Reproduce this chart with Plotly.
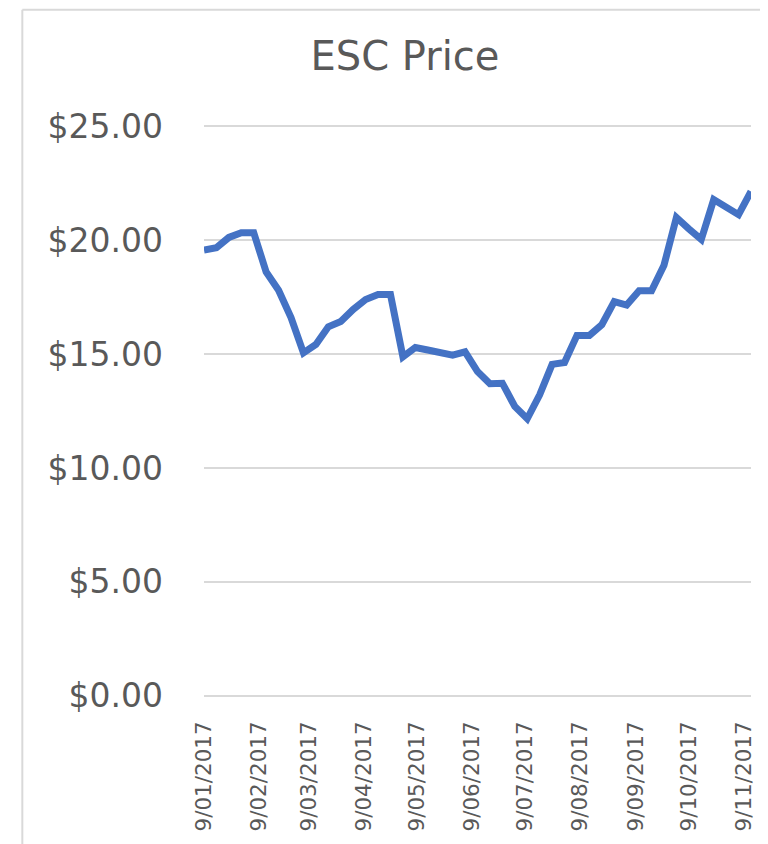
import plotly.graph_objects as go

# Weekly observation dates (Monday of each week)
dates = [
    "2017-01-09", "2017-01-16", "2017-01-23", "2017-01-30",
    "2017-02-06", "2017-02-13", "2017-02-20", "2017-02-27",
    "2017-03-06", "2017-03-13", "2017-03-20", "2017-03-27",
    "2017-04-03", "2017-04-10", "2017-04-17", "2017-04-24",
    "2017-05-01", "2017-05-08", "2017-05-15", "2017-05-22", "2017-05-29",
    "2017-06-05", "2017-06-12", "2017-06-19", "2017-06-26",
    "2017-07-03", "2017-07-10", "2017-07-17", "2017-07-24", "2017-07-31",
    "2017-08-07", "2017-08-14", "2017-08-21", "2017-08-28",
    "2017-09-04", "2017-09-11", "2017-09-18", "2017-09-25",
    "2017-10-02", "2017-10-09", "2017-10-16", "2017-10-23", "2017-10-30",
    "2017-11-06", "2017-11-13",
]

esc_price = [
    19.57, 19.67, 20.12, 20.33,
    20.33, 18.60, 17.80, 16.60,
    15.05, 15.42, 16.20, 16.43,
    16.96, 17.39, 17.61, 17.61,
    14.88, 15.29, 15.18, 15.07, 14.95,
    15.10, 14.23, 13.70, 13.72,
    12.70, 12.16, 13.21, 14.55, 14.63,
    15.82, 15.82, 16.29, 17.30,
    17.15, 17.78, 17.78, 18.90,
    21.00, 20.50, 20.03, 21.78, 21.45,
    21.12, 22.14,
]

tick_dates = [
    "2017-01-09", "2017-02-09", "2017-03-09", "2017-04-09", "2017-05-09",
    "2017-06-09", "2017-07-09", "2017-08-09", "2017-09-09", "2017-10-09",
    "2017-11-09",
]
tick_labels = [
    "9/01/2017", "9/02/2017", "9/03/2017", "9/04/2017", "9/05/2017",
    "9/06/2017", "9/07/2017", "9/08/2017", "9/09/2017", "9/10/2017",
    "9/11/2017",
]

y_ticks = [0, 5, 10, 15, 20, 25]

TEXT = "#595959"
GRID = "#d9d9d9"
FONT = "DejaVu Sans"

fig = go.Figure()
fig.add_trace(go.Scatter(
    x=dates, y=esc_price, mode="lines",
    line=dict(color="#4472C4", width=7),
    hoverinfo="skip", showlegend=False,
))

# the page body has an 8px margin, so work in figure pixels = page pixels - 8
OFF = 8
W, H = 768 - OFF, 844 - OFF
L, R, T, B = 204 - OFF, 755 - OFF, 126 - OFF, 700 - OFF
Y0, Y1 = -0.1, 25.1
upp = 25 / 574  # dollars per pixel
T = T - round((Y1 - 25) / upp)
B = B + round((0 - Y0) / upp)
pw, ph = R - L, B - T


def px(x_page):
    return (x_page - OFF - L) / pw


def py(y_page):
    return (B - (y_page - OFF)) / ph


fig.update_layout(
    width=W, height=H,
    margin=dict(l=L, r=W - R, t=T, b=H - B, pad=0),
    paper_bgcolor="white", plot_bgcolor="white",
    font=dict(family=FONT, color=TEXT),
    title=dict(
        text="ESC Price", x=(405 - OFF) / W, xanchor="center",
        xref="container", yref="container",
        y=1 - (56 - OFF) / H, yanchor="middle",
        font=dict(size=40, color=TEXT, family=FONT),
    ),
    xaxis=dict(
        type="date",
        range=[dates[0], dates[-1]],
        tickvals=tick_dates, ticktext=tick_labels,
        tickangle=-90,
        showgrid=False, zeroline=False, showline=False,
        ticks="", ticklabelstandoff=18,
        tickfont=dict(size=21.5, color=TEXT, family=FONT),
    ),
    yaxis=dict(
        range=[Y0, Y1],
        tickvals=y_ticks, tickformat="$.2f",
        showgrid=True, gridcolor=GRID, gridwidth=1.5,
        zeroline=True, zerolinecolor=GRID, zerolinewidth=1.5,
        showline=False,
        ticks="", ticklabelstandoff=40,
        tickfont=dict(size=33, color=TEXT, family=FONT),
    ),
    shapes=[
        dict(type="line", xref="paper", yref="paper",
             x0=px(21), x1=px(21), y0=py(9), y1=py(860),
             line=dict(color=GRID, width=2)),
        dict(type="line", xref="paper", yref="paper",
             x0=px(21), x1=px(790), y0=py(9), y1=py(9),
             line=dict(color=GRID, width=2)),
    ],
)

fig.write_html("out.html")
